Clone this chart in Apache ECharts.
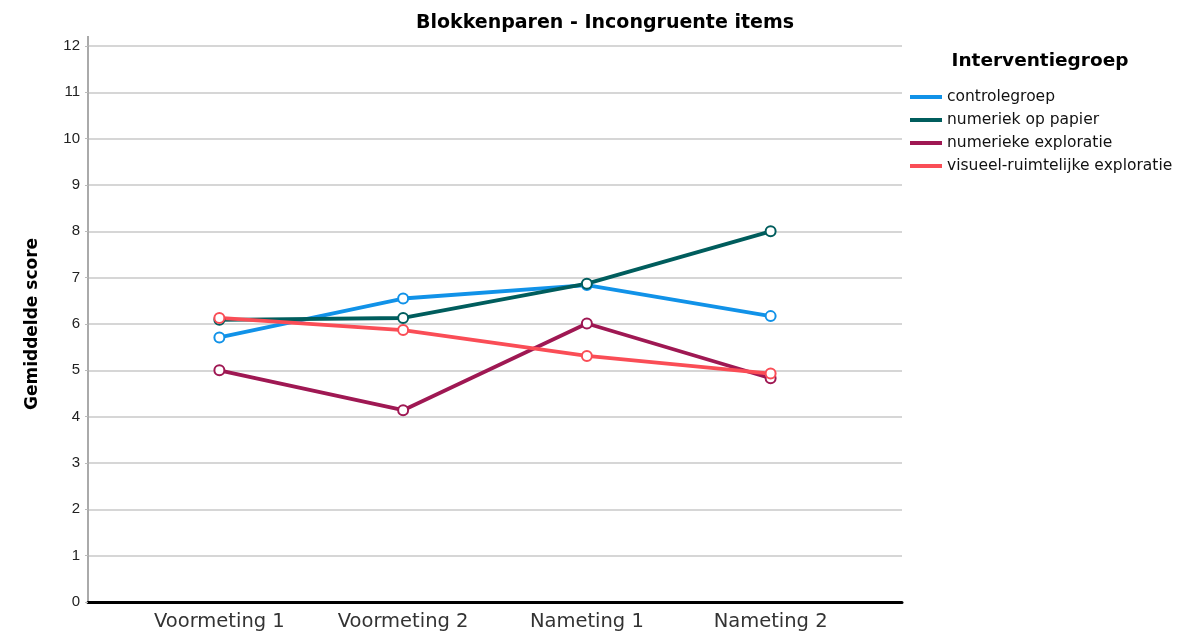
<!DOCTYPE html>
<html>
<head>
<meta charset="utf-8">
<script src="https://cdn.jsdelivr.net/npm/echarts@6/dist/echarts.min.js"></script>
<style>
  html, body { margin: 0; padding: 0; background: #fff; }
  #main { width: 1193px; height: 640px; }
</style>
</head>
<body>
<div id="main"></div>
<script>
// data
var categories = ['Voormeting 1', 'Voormeting 2', 'Nameting 1', 'Nameting 2'];
var groups = ['controlegroep', 'numeriek op papier', 'numerieke exploratie', 'visueel-ruimtelijke exploratie'];
var controlegroep = [5.71, 6.55, 6.84, 6.17];
var numeriekPapier = [6.09, 6.13, 6.87, 8.0];
var numeriekeExploratie = [5.0, 4.14, 6.01, 4.83];
var visueelRuimtelijk = [6.13, 5.87, 5.31, 4.93];
var yTicks = [0, 1, 2, 3, 4, 5, 6, 7, 8, 9, 10, 11, 12];
var colors = ['#1192e8', '#005d5d', '#9f1853', '#fa4d56'];

var myChart = echarts.init(document.getElementById('main'));

function toPoints(arr) {
  return arr.map(function (v, i) { return [i, v]; });
}

function makeSeries(name, arr, color) {
  return {
    name: name,
    type: 'line',
    data: toPoints(arr),
    symbol: 'emptyCircle',
    symbolSize: 10,
    lineStyle: { width: 3.8, color: color },
    itemStyle: { color: color, borderWidth: 1.5 },
    emphasis: { disabled: true }
  };
}

var option = {
  animation: false,
  textStyle: { fontFamily: 'DejaVu Sans, sans-serif' },
  title: [{
    text: 'Blokkenparen - Incongruente items',
    left: 600,
    top: 9,
    textAlign: 'center',
    textStyle: { fontSize: 19, fontWeight: 'bold', color: '#000', fontFamily: 'DejaVu Sans' }
  }, {
    text: 'Interventiegroep',
    left: 1035,
    top: 47,
    textAlign: 'center',
    textStyle: { fontSize: 18.5, fontWeight: 'bold', color: '#000', fontFamily: 'DejaVu Sans' }
  }],
  legend: {
    data: groups,
    orient: 'vertical',
    left: 905,
    top: 84,
    itemWidth: 32,
    itemHeight: 4,
    itemGap: 7,
    icon: 'rect',
    textStyle: { fontSize: 15.5, color: '#111' }
  },
  grid: { left: 88, right: 291, top: 46, bottom: 38 },
  xAxis: {
    type: 'value',
    min: -0.715,
    max: 3.715,
    axisLine: { show: true, lineStyle: { color: '#000', width: 3 } },
    axisTick: { show: false },
    splitLine: { show: false },
    axisLabel: {
      customValues: [0, 1, 2, 3],
      formatter: function (v) { return categories[Math.round(v)]; },
      fontSize: 19.5,
      color: '#333',
      margin: 10
    }
  },
  yAxis: {
    type: 'value',
    min: 0,
    max: 12,
    interval: 1,
    name: 'Gemiddelde score',
    nameLocation: 'middle',
    nameGap: 47,
    nameTextStyle: { fontSize: 17, fontWeight: 'bold', color: '#000' },
    axisLine: { show: true, onZero: false, lineStyle: { color: '#aaa', width: 2 } },
    axisTick: { show: true, length: 3, lineStyle: { color: '#bbb' } },
    axisLabel: {
      fontSize: 15,
      fontFamily: 'Liberation Sans',
      color: '#222',
      margin: 8,
      formatter: function (v) { return yTicks.indexOf(v) >= 0 ? String(v) : ''; }
    },
    splitLine: { show: true, lineStyle: { color: '#c8c8c8', width: 1.5 } }
  },
  graphic: [{
    type: 'line',
    shape: { x1: 88, y1: 36, x2: 88, y2: 46 },
    style: { stroke: '#aaa', lineWidth: 2 }
  }],
  series: [
    makeSeries(groups[0], controlegroep, colors[0]),
    makeSeries(groups[1], numeriekPapier, colors[1]),
    makeSeries(groups[2], numeriekeExploratie, colors[2]),
    makeSeries(groups[3], visueelRuimtelijk, colors[3])
  ]
};

myChart.setOption(option);
</script>
</body>
</html>
